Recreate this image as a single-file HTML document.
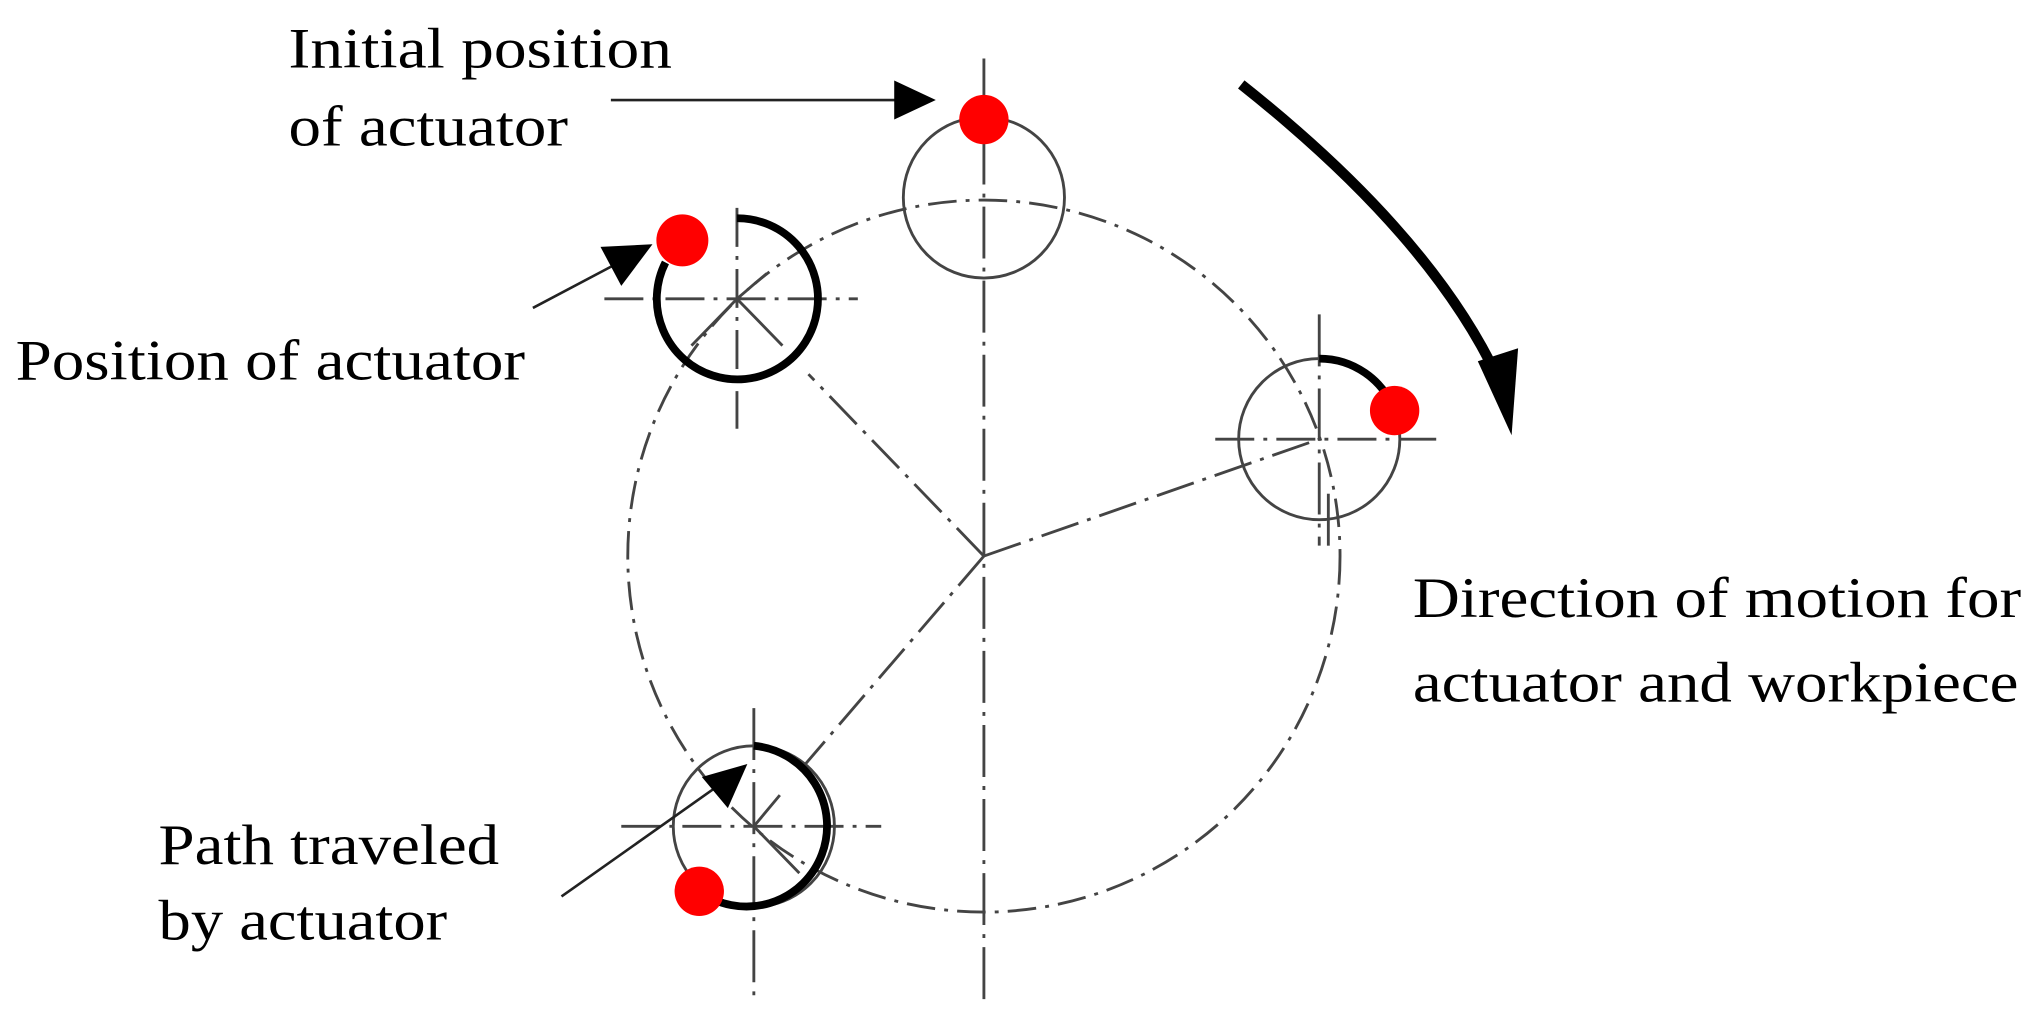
<!DOCTYPE html>
<html><head><meta charset="utf-8"><style>
html,body{margin:0;padding:0;background:#fff;}
svg{display:block;}
text{font-family:"Liberation Serif",serif;font-size:44px;fill:#000;}
</style></head><body>
<svg width="2038" height="1029" viewBox="0 0 1568 792" preserveAspectRatio="none" xmlns="http://www.w3.org/2000/svg">
<g fill="none" stroke="#444" stroke-width="2.2">
<circle cx="757" cy="428" r="274" stroke-dasharray="22,7,3,7"/>
<line x1="757" y1="45" x2="757" y2="775" stroke-dasharray="40,7,3,7"/>
<line x1="757" y1="428" x2="1015" y2="338" stroke-dasharray="30,7,3,7"/>
<line x1="757" y1="428" x2="618" y2="590" stroke-dasharray="30,7,3,7"/>
<line x1="757" y1="428" x2="622" y2="288" stroke-dasharray="30,7,3,7"/>
<circle cx="757" cy="152" r="62"/>
<line x1="465" y1="230" x2="660" y2="230" stroke-dasharray="30,7,3,7"/>
<line x1="567" y1="160" x2="567" y2="330" stroke-dasharray="30,7,3,7"/>
<line x1="567" y1="230" x2="532" y2="266"/>
<line x1="567" y1="230" x2="602" y2="266"/>
<line x1="567" y1="230" x2="594" y2="207" stroke-dasharray="12,6"/>
<circle cx="1015" cy="338" r="62"/>
<line x1="935" y1="338" x2="1105" y2="338" stroke-dasharray="30,7,3,7"/>
<line x1="1015" y1="242" x2="1015" y2="420" stroke-dasharray="40,7,3,7"/>
<line x1="1022" y1="380" x2="1022" y2="420"/>
<circle cx="580" cy="636" r="62"/>
<line x1="478" y1="636" x2="678" y2="636" stroke-dasharray="30,7,3,7"/>
<line x1="580" y1="545" x2="580" y2="770" stroke-dasharray="40,7,3,7"/>
<line x1="580" y1="636" x2="615" y2="672"/>
<line x1="580" y1="636" x2="600" y2="612"/>
</g>
<g fill="none" stroke="#000" stroke-width="6">
<path d="M567 168 A62 62 0 1 1 512 202"/>
<path d="M1015 276 A62 62 0 0 1 1073 316"/>
<path d="M580 574 A62 62 0 1 1 538 686"/>
</g>
<g fill="red">
<circle cx="757" cy="92" r="19"/>
<circle cx="525" cy="185" r="20"/>
<circle cx="1073" cy="316" r="19"/>
<circle cx="538" cy="686" r="19"/>
</g>
<g stroke="#222" stroke-width="2" fill="none">
<line x1="470" y1="77" x2="690" y2="77"/>
<line x1="410" y1="237" x2="480" y2="200"/>
<line x1="432" y1="690" x2="555" y2="603"/>
</g>
<g fill="#000">
<polygon points="720,77 688,62 688,92"/>
<polygon points="502,188 462,190 478,220"/>
<polygon points="575,588 540,598 560,622"/>
</g>
<path d="M955 65 Q1100 180 1152 290" fill="none" stroke="#000" stroke-width="8"/>
<polygon points="1163,335 1137,278 1168,268" fill="#000"/>
<text x="222" y="52" textLength="295" lengthAdjust="spacingAndGlyphs">Initial position</text>
<text x="222" y="112" textLength="215" lengthAdjust="spacingAndGlyphs">of actuator</text>
<text x="12" y="292" textLength="392" lengthAdjust="spacingAndGlyphs">Position of actuator</text>
<text x="1087" y="475" textLength="468" lengthAdjust="spacingAndGlyphs">Direction of motion for</text>
<text x="1087" y="540" textLength="466" lengthAdjust="spacingAndGlyphs">actuator and workpiece</text>
<text x="122" y="665" textLength="262" lengthAdjust="spacingAndGlyphs">Path traveled</text>
<text x="122" y="723" textLength="222" lengthAdjust="spacingAndGlyphs">by actuator</text>
</svg>
</body></html>
